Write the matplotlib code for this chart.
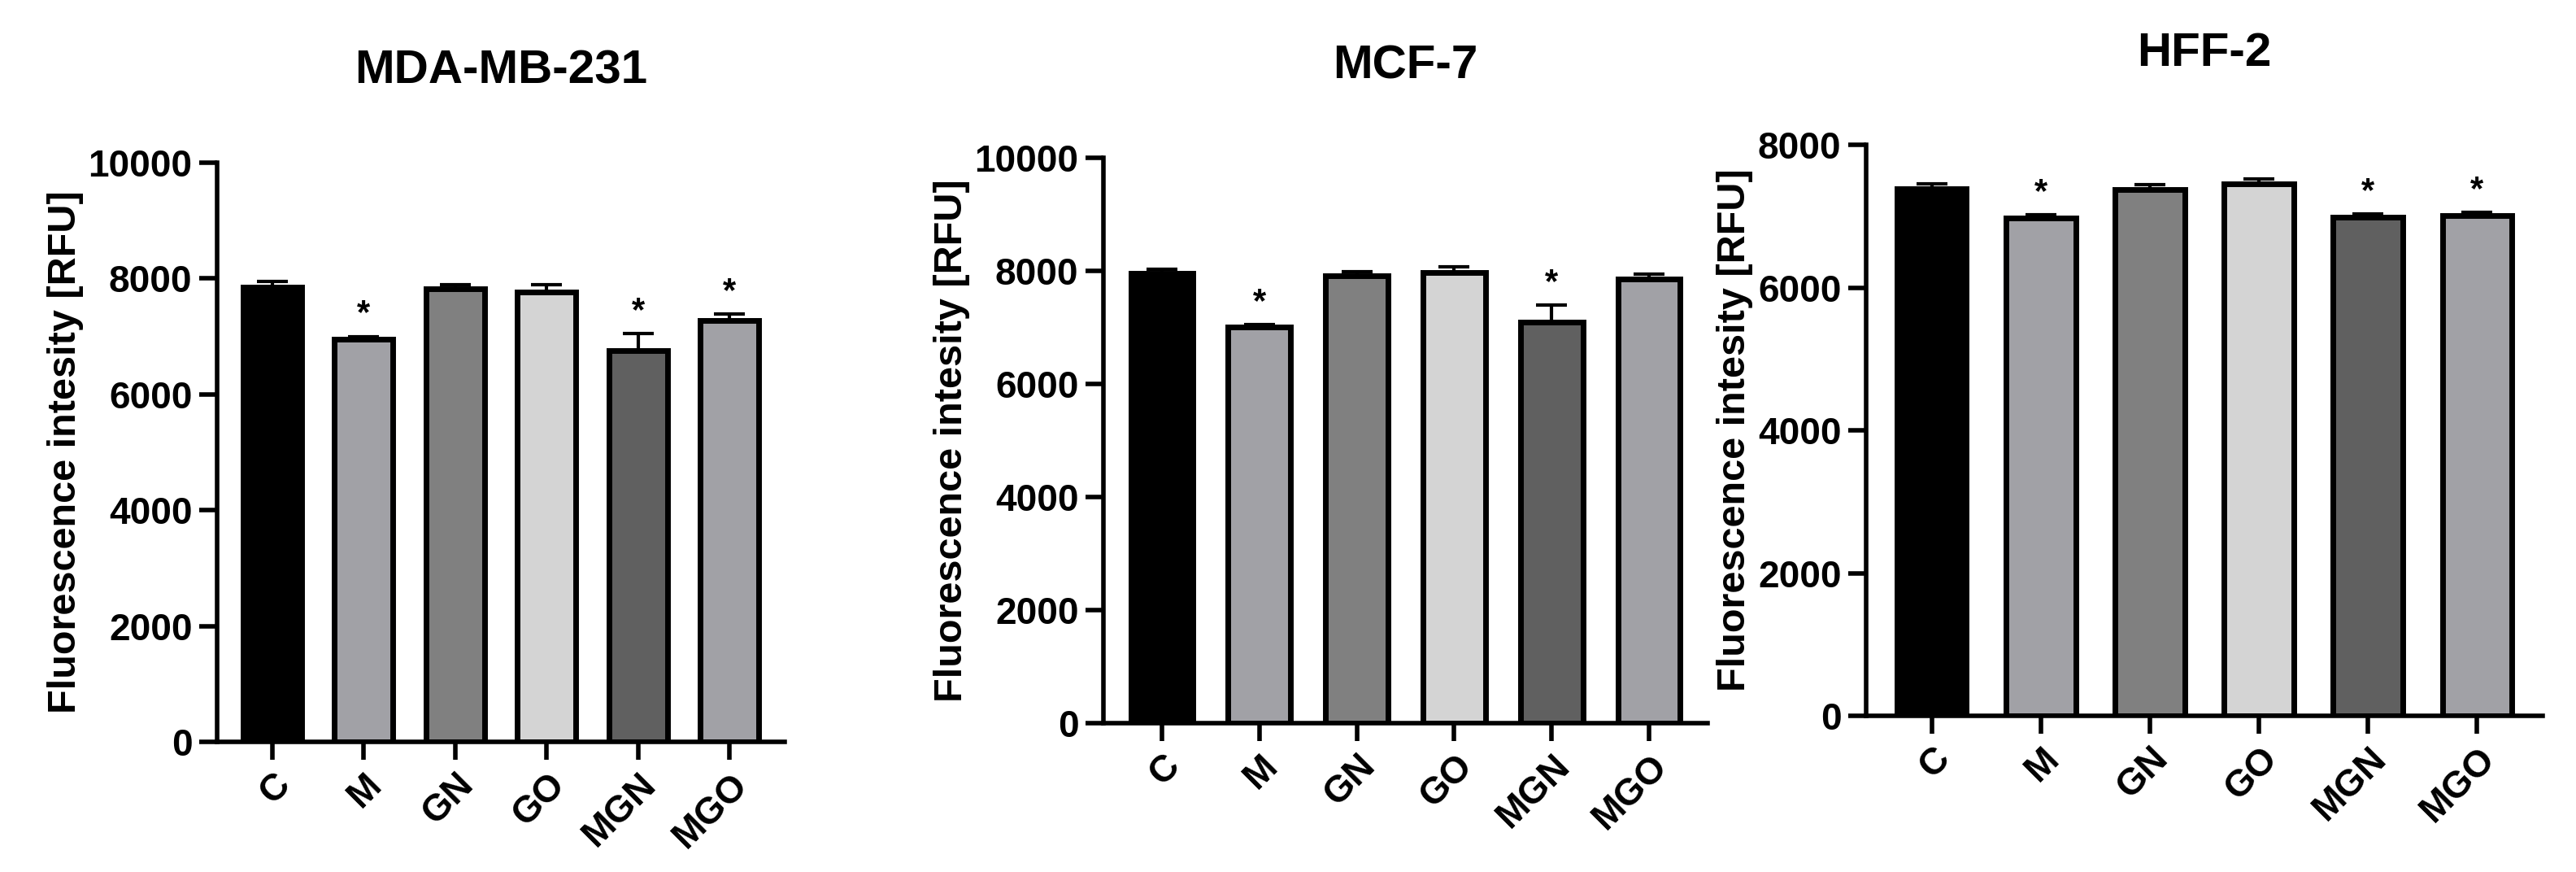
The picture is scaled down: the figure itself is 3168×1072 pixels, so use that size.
import numpy as np
import matplotlib.pyplot as plt

plt.rcParams['font.family'] = ['Liberation Sans', 'DejaVu Sans']

groups = ['C', 'M', 'GN', 'GO', 'MGN', 'MGO']
colors = ['#000000', '#a1a1a6', '#808080', '#d4d4d4', '#606060', '#a1a1a6']

titles = ['MDA-MB-231', 'MCF-7', 'HFF-2']
mda_vals = [7850, 6950, 7820, 7770, 6750, 7280]
mda_err = [100, 50, 80, 120, 300, 110]
mcf_vals = [7950, 7000, 7920, 7970, 7100, 7850]
mcf_err = [80, 50, 60, 100, 300, 90]
hff_vals = [7380, 6980, 7370, 7450, 6990, 7010]
hff_err = [70, 40, 70, 70, 40, 40]
stars = [[1, 4, 5], [1, 4], [1, 4, 5]]
ymax = [10000, 10000, 8000]

W, H = 3168, 1072
# axes boxes in pixels: left, right, top, bottom
boxes = [(267, 965, 200, 912), (1357, 2100, 194, 889), (2295, 3127, 178, 880)]

fig = plt.figure(figsize=(W / 100, H / 100), dpi=100)
data = [(mda_vals, mda_err), (mcf_vals, mcf_err), (hff_vals, hff_err)]
for i, ((vals, err), (l, r, t, b)) in enumerate(zip(data, boxes)):
    ax = fig.add_axes([l / W, 1 - b / H, (r - l) / W, (b - t) / H])
    x = np.arange(len(groups))
    ax.bar(x, vals, width=0.64, color=colors, edgecolor='black', linewidth=5, zorder=2)
    ax.errorbar(x, vals, yerr=[np.zeros(len(err)), err], fmt='none', ecolor='black',
                elinewidth=3, capsize=14, capthick=3, zorder=1)
    for j in stars[i]:
        ax.text(x[j], vals[j] + err[j] + ymax[i] * 0.01, '*', ha='center', va='bottom',
                fontsize=30, fontweight='bold')
    ax.set_xlim(-0.6, len(groups) - 0.4)
    ax.set_ylim(0, ymax[i])
    ax.set_yticks(np.arange(0, ymax[i] + 1, 2000))
    ax.set_xticks(x)
    ax.set_xticklabels(groups, rotation=45, ha='right', rotation_mode='anchor')
    for s in ['top', 'right']:
        ax.spines[s].set_visible(False)
    for s in ['left', 'bottom']:
        ax.spines[s].set_linewidth(4)
    ax.tick_params(width=4, length=16, labelsize=33, pad=6)
    for lab in ax.get_xticklabels() + ax.get_yticklabels():
        lab.set_fontweight('bold')
    ax.set_ylabel('Fluorescence intesity [RFU]', fontsize=35, fontweight='bold')
    ax.set_title(titles[i], fontsize=42, fontweight='bold', pad=70)

fig.savefig('out.png', dpi=100)
